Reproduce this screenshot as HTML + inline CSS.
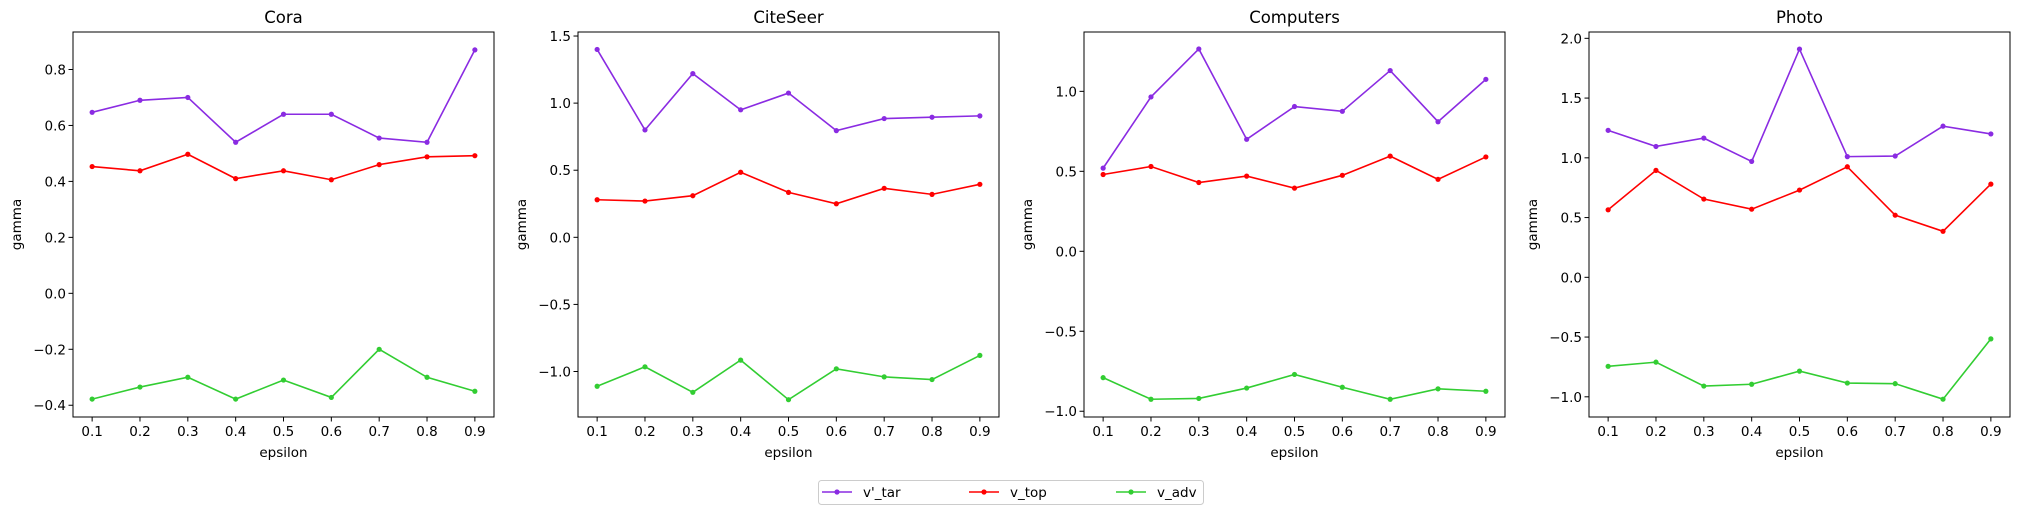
<!DOCTYPE html>
<html><head><meta charset="utf-8"><style>
body{margin:0;background:#fff;}
svg{display:block;font-family:"DejaVu Sans","Liberation Sans",sans-serif;}
</style></head><body>
<svg id="chart" width="2020" height="515"></svg>
<script>
const categories=[0.1,0.2,0.3,0.4,0.5,0.6,0.7,0.8,0.9];
const titles=["Cora","CiteSeer","Computers","Photo"];
const seriesNames=["v'_tar","v_top","v_adv"];
const coraTar=[0.647,0.69,0.70,0.54,0.64,0.64,0.555,0.54,0.87];
const coraTop=[0.453,0.438,0.497,0.41,0.438,0.406,0.46,0.488,0.492];
const coraAdv=[-0.378,-0.335,-0.30,-0.378,-0.31,-0.372,-0.20,-0.30,-0.35];
const citeTar=[1.40,0.80,1.22,0.95,1.075,0.795,0.885,0.895,0.905];
const citeTop=[0.28,0.27,0.31,0.485,0.335,0.25,0.365,0.32,0.395];
const citeAdv=[-1.11,-0.965,-1.155,-0.915,-1.21,-0.98,-1.04,-1.06,-0.88];
const compTar=[0.52,0.965,1.265,0.70,0.905,0.875,1.13,0.81,1.075];
const compTop=[0.48,0.53,0.43,0.47,0.395,0.475,0.595,0.45,0.59];
const compAdv=[-0.79,-0.925,-0.92,-0.855,-0.77,-0.85,-0.925,-0.86,-0.875];
const photoTar=[1.23,1.095,1.165,0.97,1.91,1.01,1.015,1.265,1.2];
const photoTop=[0.565,0.895,0.655,0.57,0.73,0.925,0.52,0.385,0.78];
const photoAdv=[-0.745,-0.71,-0.91,-0.895,-0.785,-0.885,-0.89,-1.02,-0.515];
const coraTicks=[-0.4,-0.2,0.0,0.2,0.4,0.6,0.8];
const citeTicks=[-1.0,-0.5,0.0,0.5,1.0,1.5];
const compTicks=[-1.0,-0.5,0.0,0.5,1.0];
const photoTicks=[-1.0,-0.5,0.0,0.5,1.0,1.5,2.0];
const colors=["#8a2be2","#ff0000","#32cd32"];
const panels=[
 {data:[coraTar,coraTop,coraAdv],ticks:coraTicks,ymin:-0.442,ymax:0.934,left:73},
 {data:[citeTar,citeTop,citeAdv],ticks:citeTicks,ymin:-1.339,ymax:1.53,left:578},
 {data:[compTar,compTop,compAdv],ticks:compTicks,ymin:-1.036,ymax:1.371,left:1084},
 {data:[photoTar,photoTop,photoAdv],ticks:photoTicks,ymin:-1.169,ymax:2.053,left:1589}
];
const NS="http://www.w3.org/2000/svg";
const svg=document.getElementById('chart');
function mk(tag,attrs,parent,text){const e=document.createElementNS(NS,tag);for(const k in attrs)e.setAttribute(k,attrs[k]);if(text!==undefined)e.textContent=text;(parent||svg).appendChild(e);return e;}
const W=421,TOP=32,BOT=417;
function fmt(v){const s=v.toFixed(1);return v<0?"\u2212"+s.slice(1):s;}
panels.forEach((p,pi)=>{
 const g=mk('g',{});
 
 
 const xs=v=>p.left+(v-0.06)/0.88*W;
 const ys=v=>BOT-(v-p.ymin)/(p.ymax-p.ymin)*(BOT-TOP);
 const t=mk('text',{x:p.left+W/2,y:23,'text-anchor':'middle','font-size':'16.5'},g,titles[pi]);
 
 
 categories.forEach(c=>{
  const x=xs(c);
  mk('line',{x1:x,x2:x,y1:BOT,y2:BOT+4.5,stroke:'#000','stroke-width':1},g);
  const l=mk('text',{x:x,y:BOT+19,'text-anchor':'middle','font-size':'13.5'},g,c.toFixed(1));
  
  
 });
 p.ticks.forEach(v=>{
  const y=ys(v);
  mk('line',{x1:p.left-4.5,x2:p.left,y1:y,y2:y,stroke:'#000','stroke-width':1},g);
  const l=mk('text',{x:p.left-7,y:y+5,'text-anchor':'end','font-size':'13.5'},g,fmt(v));
  
  
 });
 const xl=mk('text',{x:p.left+W/2,y:BOT+40,'text-anchor':'middle','font-size':'13.5'},g,'epsilon');
 
 
 const yx=p.left-52,yy=(TOP+BOT)/2;
 const yl=mk('text',{x:yx,y:yy,'text-anchor':'middle','font-size':'13.5',transform:`rotate(-90 ${yx} ${yy})`},g,'gamma');
 
 
 p.data.forEach((arr,si)=>{
  const pts=arr.map((v,i)=>xs(categories[i])+','+ys(v)).join(' ');
  const pl=mk('polyline',{points:pts,fill:'none',stroke:colors[si],'stroke-width':1.6},g);
  
  
  arr.forEach((v,i)=>{
   const c=mk('circle',{cx:xs(categories[i]),cy:ys(v),r:2.6,fill:colors[si]},g);
   
   
  });
 });
 const fr=mk('rect',{x:p.left,y:TOP,width:W,height:BOT-TOP,fill:'none',stroke:'#000','stroke-width':1},g);
 
 
});
const lg=mk('g',{});


mk('rect',{x:818.5,y:480.5,width:385,height:24,rx:3,fill:'#fff',stroke:'#ccc','stroke-width':1},lg);
const lx=[822,969,1116];
seriesNames.forEach((n,i)=>{
 const e=mk('g',{},lg);
 
 
 mk('line',{x1:lx[i],x2:lx[i]+30,y1:492,y2:492,stroke:colors[i],'stroke-width':1.6},e);
 mk('circle',{cx:lx[i]+15,cy:492,r:2.6,fill:colors[i]},e);
 mk('text',{x:lx[i]+41,y:497,'font-size':'13.5'},e,n);
});
</script>
</body></html>
